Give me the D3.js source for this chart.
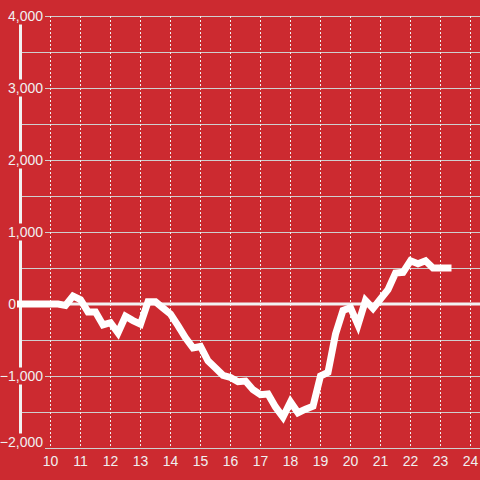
<!DOCTYPE html>
<html>
<head>
<meta charset="utf-8">
<script src="https://cdn.jsdelivr.net/npm/d3@7"></script>
<style>
html,body{margin:0;padding:0;background:#cc2a30;}
svg{display:block;font-family:"Liberation Sans",Arial,sans-serif;}
</style>
</head>
<body>
<svg id="chart" width="480" height="480"></svg>
<script>
const hours = [9,9.25,9.5,9.75,10,10.25,10.5,10.75,11,11.25,11.5,11.75,12,12.25,12.5,12.75,13,13.25,13.5,13.75,14,14.25,14.5,14.75,15,15.25,15.5,15.75,16,16.25,16.5,16.75,17,17.25,17.5,17.75,18,18.25,18.5,18.75,19,19.25,19.5,19.75,20,20.25,20.5,20.75,21,21.25,21.5,21.75,22,22.25,22.5,22.75,23,23.25];
const values = [0,0,0,0,0,0,-20,110,60,-110,-110,-290,-260,-400,-170,-230,-280,30,30,-55,-140,-300,-470,-610,-590,-790,-890,-990,-1020,-1080,-1070,-1190,-1260,-1250,-1430,-1570,-1360,-1510,-1460,-1420,-1000,-950,-420,-90,-50,-290,50,-60,70,200,430,440,600,560,600,500,500,500];
const xTicks = [10,11,12,13,14,15,16,17,18,19,20,21,22,23,24];
const yTicks = [-2000,-1000,0,1000,2000,3000,4000];
const yGrid = [-2000,-1500,-1000,-500,0,500,1000,1500,2000,2500,3000,3500,4000];

const svg = d3.select("#chart");
const W = 480, H = 480;
const x = d3.scaleLinear().domain([10,24]).range([50.5,470.5]);
const y = d3.scaleLinear().domain([-2000,4000]).range([448,16]);
const left = x(9);

svg.append("rect").attr("width",W).attr("height",H).attr("fill","#cc2a30");

// horizontal gridlines
svg.append("g").selectAll("line").data(yGrid).join("line")
  .attr("x1",left).attr("x2",W)
  .attr("y1",d=>Math.round(y(d))+0.5).attr("y2",d=>Math.round(y(d))+0.5)
  .attr("stroke","#cfcfcf").attr("stroke-width",1);

// vertical dashed gridlines
svg.append("g").selectAll("line").data(xTicks).join("line")
  .attr("x1",d=>x(d)).attr("x2",d=>x(d))
  .attr("y1",y(4000)).attr("y2",y(-2000))
  .attr("stroke","#f0f0f0").attr("stroke-width",1).attr("stroke-dasharray","2,2");

// zero line
svg.append("line").attr("x1",left).attr("x2",W)
  .attr("y1",y(0)).attr("y2",y(0))
  .attr("stroke","#f2f2f2").attr("stroke-width",3);

// left axis line
svg.append("line").attr("x1",left).attr("x2",left)
  .attr("y1",y(4000)).attr("y2",y(-2000))
  .attr("stroke","#f2f2f2").attr("stroke-width",3);

// y labels with background
const yl = svg.append("g").selectAll("g").data(yTicks).join("g")
  .attr("transform",d=>`translate(0,${y(d) - (d===-2000 ? 6 : 0)})`);
yl.filter(d=>d!==0).append("rect").attr("x",0).attr("y",-8.5).attr("width",45).attr("height",17).attr("fill","#cc2a30");
yl.append("text").attr("x",d=>d===0 ? 16 : 43).attr("dy","0.36em").attr("text-anchor","end")
  .attr("font-size",14).attr("fill","#f0f0f0")
  .text(d=>d3.format(",")(d));

// data line
const line = d3.line().x((d,i)=>x(hours[i])).y(d=>y(d));
svg.append("path").datum(values)
  .attr("d",line).attr("fill","none")
  .attr("stroke","#ffffff").attr("stroke-width",7)
  .attr("stroke-linecap","square").attr("stroke-linejoin","miter");

// x labels
svg.append("g").selectAll("text").data(xTicks).join("text")
  .attr("x",d=>x(d)).attr("y",466).attr("text-anchor","middle")
  .attr("font-size",14).attr("fill","#f0f0f0")
  .text(d=>d);
</script>
</body>
</html>
